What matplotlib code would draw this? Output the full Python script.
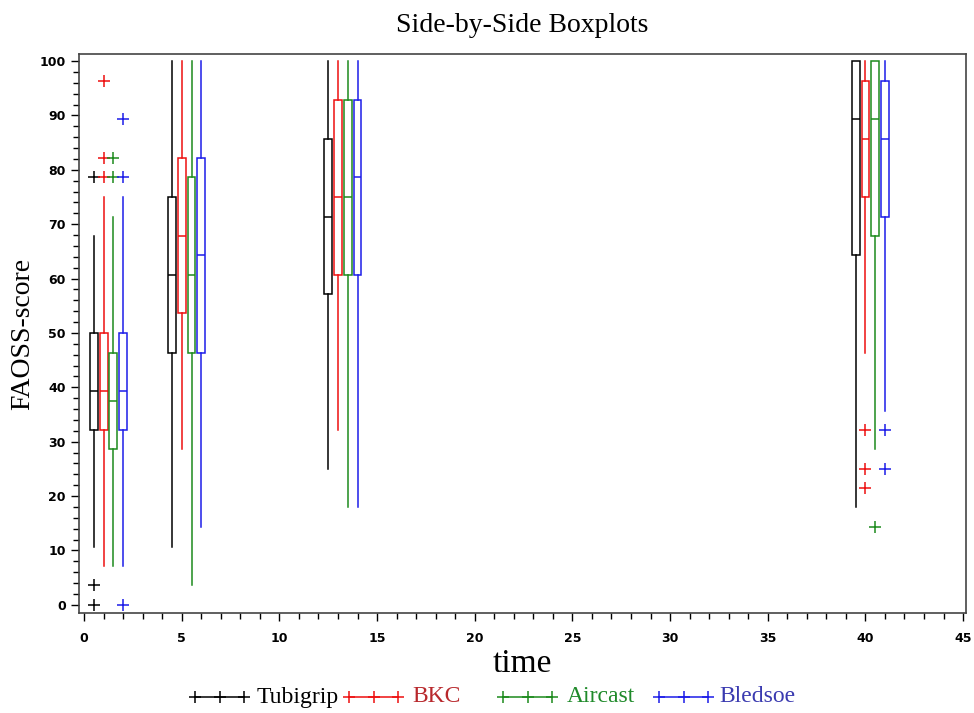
"""
Side-by-side boxplots of FAOSS-score over time, one box per treatment.
Saves: out.png
"""
import matplotlib.pyplot as plt
from matplotlib.lines import Line2D
from matplotlib.ticker import MultipleLocator

TIMES = [1, 5, 13, 40]
TREATMENTS = ["Tubigrip", "BKC", "Aircast", "Bledsoe"]

# five-number summaries per treatment, one entry per time point
WHISLO = {
    "Tubigrip": [10.7, 10.7, 25.0, 17.9],
    "BKC":      [7.1, 28.6, 32.1, 46.4],
    "Aircast":  [7.1, 3.6, 17.9, 28.6],
    "Bledsoe":  [7.1, 14.3, 17.9, 35.7],
}
Q1 = {
    "Tubigrip": [32.1, 46.4, 57.1, 64.3],
    "BKC":      [32.1, 53.6, 60.7, 75.0],
    "Aircast":  [28.6, 46.4, 60.7, 67.9],
    "Bledsoe":  [32.1, 46.4, 60.7, 71.4],
}
MED = {
    "Tubigrip": [39.3, 60.7, 71.4, 89.3],
    "BKC":      [39.3, 67.9, 75.0, 85.7],
    "Aircast":  [37.5, 60.7, 75.0, 89.3],
    "Bledsoe":  [39.3, 64.3, 78.6, 85.7],
}
Q3 = {
    "Tubigrip": [50.0, 75.0, 85.7, 100.0],
    "BKC":      [50.0, 82.1, 92.9, 96.4],
    "Aircast":  [46.4, 78.6, 92.9, 100.0],
    "Bledsoe":  [50.0, 82.1, 92.9, 96.4],
}
WHISHI = {
    "Tubigrip": [67.9, 100.0, 100.0, 100.0],
    "BKC":      [75.0, 100.0, 100.0, 100.0],
    "Aircast":  [71.4, 100.0, 100.0, 100.0],
    "Bledsoe":  [75.0, 100.0, 100.0, 100.0],
}
FLIERS = {
    "Tubigrip": [[78.6, 3.6, 0.0], [], [], []],
    "BKC":      [[96.4, 82.1, 78.6], [], [], [32.1, 25.0, 21.4]],
    "Aircast":  [[82.1, 78.6], [], [], [14.3]],
    "Bledsoe":  [[89.3, 78.6, 0.0], [], [], [32.1, 25.0]],
}

COLORS = {"Tubigrip": "black", "BKC": "#ee1010", "Aircast": "#1c8a1c", "Bledsoe": "#1c1ce8"}
TEXT_COLORS = {"Tubigrip": "black", "BKC": "#b8282c", "Aircast": "#1f8a2a", "Bledsoe": "#3a3ab0"}
OFFSET = {"Tubigrip": -0.5, "BKC": 0.0, "Aircast": 0.5, "Bledsoe": 1.0}

plt.rcParams["font.family"] = "DejaVu Sans"
SERIF = "Liberation Serif"

W, H = 974, 713
fig = plt.figure(figsize=(W / 100, H / 100), dpi=100)
ax = fig.add_axes([0.0811, 0.1403, 0.9107, 0.7840])

for tr in TREATMENTS:
    c = COLORS[tr]
    stats = []
    for i in range(len(TIMES)):
        stats.append(dict(whislo=WHISLO[tr][i], q1=Q1[tr][i], med=MED[tr][i],
                          q3=Q3[tr][i], whishi=WHISHI[tr][i], fliers=FLIERS[tr][i]))
    pos = [t + OFFSET[tr] for t in TIMES]
    ax.bxp(stats, positions=pos, widths=0.4, showcaps=False, manage_ticks=False,
           patch_artist=True,
           boxprops=dict(facecolor="white", edgecolor=c, lw=1.1),
           medianprops=dict(color=c, lw=1.1),
           whiskerprops=dict(color=c, lw=1.1),
           flierprops=dict(marker="+", markeredgecolor=c, markersize=8, markeredgewidth=1.1))

ax.set_xlim(-0.26, 45.15)
ax.set_ylim(-1.5, 101.3)
ax.xaxis.set_major_locator(MultipleLocator(5))
ax.xaxis.set_minor_locator(MultipleLocator(1))
ax.yaxis.set_major_locator(MultipleLocator(10))
ax.yaxis.set_minor_locator(MultipleLocator(2))
ax.tick_params(which="major", direction="out", length=6, width=1, labelsize=9)
ax.tick_params(which="minor", direction="out", length=4, width=1)
for lab in ax.get_xticklabels() + ax.get_yticklabels():
    lab.set_fontweight("bold")
ax.tick_params(axis="x", pad=8)
for sp in ax.spines.values():
    sp.set_color("#444444")
    sp.set_linewidth(1.2)

ax.set_title("Side-by-Side Boxplots", family=SERIF, fontsize=20, pad=16)
ax.set_ylabel("FAOSS-score", family=SERIF, fontsize=20, labelpad=3)
ax.set_xlabel("time", family=SERIF, fontsize=24, labelpad=2)

# legend row, laid out like the original (uneven slots)
handle_x = [195, 349, 503, 659]
text_x = [257, 412, 567, 719]
leg_y = 1 - 697 / H
for tr, hx, tx in zip(TREATMENTS, handle_x, text_x):
    fig.add_artist(Line2D([hx / W, (hx + 24.5) / W, (hx + 49) / W], [leg_y] * 3,
                          transform=fig.transFigure, color=COLORS[tr], lw=1.1,
                          marker="+", markersize=8, markeredgewidth=1.1))
    fig.text(tx / W, leg_y, tr, family=SERIF, fontsize=17, color=TEXT_COLORS[tr],
             ha="left", va="center")

fig.savefig("out.png", dpi=100)
